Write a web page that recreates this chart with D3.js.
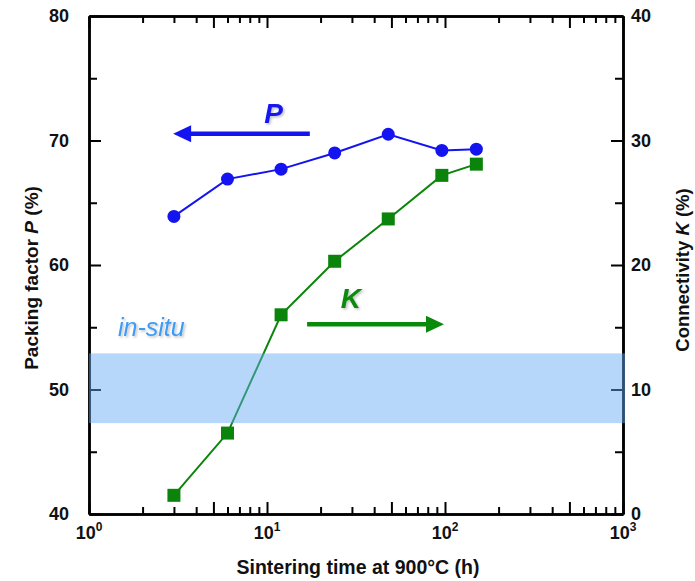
<!DOCTYPE html>
<html lang="en">
<head>
  <meta charset="UTF-8">
  <title>Packing factor and connectivity</title>
  <style>
    body { margin: 0; background: #fff; }
    text { font-family: "Liberation Sans", Arial, sans-serif; }
  </style>
</head>
<body>
<div id="chart"></div>

<script src="https://cdn.jsdelivr.net/npm/d3@7"></script>
<script>
  // sintering time (h) and the two measured series
  const times = [3, 6, 12, 24, 48, 96, 150];
  const packing = [63.9, 66.9, 67.7, 69.0, 70.5, 69.2, 69.3];
  const connectivity = [1.5, 6.5, 16.0, 20.3, 23.7, 27.2, 28.1];

  const pTicks = [40, 50, 60, 70, 80];
  const kTicks = [0, 10, 20, 30, 40];
  const decadeExps = [0, 1, 2, 3];
  const inSituBand = [47.3, 52.9];   // P range of in-situ value

  const margin = {top: 16, right: 72, bottom: 67, left: 89},
    width = 695 - margin.left - margin.right,
    height = 581 - margin.top - margin.bottom;

  const svgRoot = d3.select("#chart")
    .append("svg")
    .attr("width", 695)
    .attr("height", 581);

  const defs = svgRoot.append("defs");
  defs.append("filter").attr("id", "shadow")
    .attr("x", "-20%").attr("y", "-20%").attr("width", "150%").attr("height", "150%")
    .append("feDropShadow")
    .attr("dx", 1.5).attr("dy", 1.5).attr("stdDeviation", 1)
    .attr("flood-color", "#000").attr("flood-opacity", 0.25);

  const svg = svgRoot.append("g")
    .attr("transform", "translate(" + margin.left + "," + margin.top + ")");

  // scales
  const x = d3.scaleLog().domain([1, 1000]).range([0, width]);
  const yP = d3.scaleLinear().domain([40, 80]).range([height, 0]);
  const yK = d3.scaleLinear().domain([0, 40]).range([height, 0]);

  // log tick values
  const longX = [], shortX = [];
  decadeExps.forEach(function (e) {
    for (let m = 1; m <= 9; m++) {
      const v = m * Math.pow(10, e);
      if (v > 1000) continue;
      if (m === 1 || m === 5) longX.push(v); else shortX.push(v);
    }
  });

  const minorP = [45, 55, 65, 75];
  const minorK = [5, 15, 25, 35];

  function styleAxis(g) {
    g.selectAll(".domain").attr("stroke", "#000").attr("stroke-width", 2.5);
    g.selectAll(".tick line").attr("stroke", "#000").attr("stroke-width", 2);
  }

  // bottom and top axes (ticks inside)
  svg.append("g").attr("transform", "translate(0," + height + ")")
    .call(d3.axisBottom(x).tickValues(longX).tickSize(-12).tickSizeOuter(0).tickFormat(""))
    .call(styleAxis);
  svg.append("g").attr("transform", "translate(0," + height + ")")
    .call(d3.axisBottom(x).tickValues(shortX).tickSize(-7).tickSizeOuter(0).tickFormat(""))
    .call(styleAxis);
  svg.append("g")
    .call(d3.axisTop(x).tickValues(longX).tickSize(-12).tickSizeOuter(0).tickFormat(""))
    .call(styleAxis);
  svg.append("g")
    .call(d3.axisTop(x).tickValues(shortX).tickSize(-7).tickSizeOuter(0).tickFormat(""))
    .call(styleAxis);

  // left axis
  svg.append("g")
    .call(d3.axisLeft(yP).tickValues(minorP).tickSize(-8).tickSizeOuter(0).tickFormat(""))
    .call(styleAxis);
  const leftAx = svg.append("g")
    .call(d3.axisLeft(yP).tickValues(pTicks).tickSize(-12).tickSizeOuter(0).tickPadding(20))
    .call(styleAxis);
  leftAx.selectAll("text")
    .attr("font-size", 18).attr("font-weight", "bold").attr("fill", "#111")
    .attr("font-family", "Liberation Sans, Arial, sans-serif");

  // right axis
  svg.append("g").attr("transform", "translate(" + width + ",0)")
    .call(d3.axisRight(yK).tickValues(minorK).tickSize(-8).tickSizeOuter(0).tickFormat(""))
    .call(styleAxis);
  const rightAx = svg.append("g").attr("transform", "translate(" + width + ",0)")
    .call(d3.axisRight(yK).tickValues(kTicks).tickSize(-12).tickSizeOuter(0).tickPadding(8))
    .call(styleAxis);
  rightAx.selectAll("text")
    .attr("font-size", 18).attr("font-weight", "bold").attr("fill", "#111")
    .attr("font-family", "Liberation Sans, Arial, sans-serif");

  // x tick labels 10^n
  const xl = svg.append("g").selectAll("text")
    .data(decadeExps)
    .enter()
    .append("text")
    .attr("x", function (d) { return x(Math.pow(10, d)); })
    .attr("y", height + 25)
    .attr("text-anchor", "middle")
    .attr("font-size", 18).attr("font-weight", "bold").attr("fill", "#111");
  xl.append("tspan").text("10");
  xl.append("tspan").attr("font-size", 12).attr("dy", -8).text(function (d) { return d; });

  // axis titles
  svg.append("text")
    .attr("x", width / 2 + 2).attr("y", height + 60)
    .attr("text-anchor", "middle")
    .attr("font-size", 19.5).attr("font-weight", "bold").attr("fill", "#111")
    .text("Sintering time at 900°C (h)");

  const lt = svg.append("text")
    .attr("transform", "translate(-51," + (height / 2 + 13) + ") rotate(-90)")
    .attr("text-anchor", "middle")
    .attr("font-size", 19).attr("font-weight", "bold").attr("fill", "#111");
  lt.append("tspan").text("Packing factor ");
  lt.append("tspan").attr("font-style", "italic").text("P");
  lt.append("tspan").text(" (%)");

  const rt = svg.append("text")
    .attr("transform", "translate(" + (width + 66) + "," + (height / 2 + 5) + ") rotate(-90)")
    .attr("text-anchor", "middle")
    .attr("font-size", 18.5).attr("font-weight", "bold").attr("fill", "#111");
  rt.append("tspan").text("Connectivity ");
  rt.append("tspan").attr("font-style", "italic").text("K");
  rt.append("tspan").text(" (%)");

  // data lines
  const pData = times.map(function (t, i) { return {t: t, v: packing[i]}; });
  const kData = times.map(function (t, i) { return {t: t, v: connectivity[i]}; });

  svg.append("path")
    .datum(pData)
    .attr("fill", "none").attr("stroke", "#1414f0").attr("stroke-width", 2)
    .attr("d", d3.line().x(function (d) { return x(d.t); }).y(function (d) { return yP(d.v); }));

  svg.append("path")
    .datum(kData)
    .attr("fill", "none").attr("stroke", "#0a840a").attr("stroke-width", 2)
    .attr("d", d3.line().x(function (d) { return x(d.t); }).y(function (d) { return yK(d.v); }));

  // in-situ band (semi transparent, over lines and axes)
  svg.append("rect")
    .attr("x", 0)
    .attr("y", yP(inSituBand[1]))
    .attr("width", width + 2)
    .attr("height", yP(inSituBand[0]) - yP(inSituBand[1]))
    .attr("fill", "rgb(100,170,245)")
    .attr("fill-opacity", 0.47);

  // markers
  svg.selectAll("circle.p")
    .data(pData)
    .enter()
    .append("circle")
    .attr("class", "p")
    .attr("cx", function (d) { return x(d.t); })
    .attr("cy", function (d) { return yP(d.v); })
    .attr("r", 6.5)
    .attr("fill", "#1414f0");

  svg.selectAll("rect.k")
    .data(kData)
    .enter()
    .append("rect")
    .attr("class", "k")
    .attr("x", function (d) { return x(d.t) - 6.5; })
    .attr("y", function (d) { return yK(d.v) - 6.5; })
    .attr("width", 13).attr("height", 13)
    .attr("fill", "#0a840a");

  // annotations: arrows pointing to the axis of each series
  function arrow(x0, x1, yy, color) {
    const dir = x1 > x0 ? 1 : -1;
    svg.append("line")
      .attr("x1", x0).attr("x2", x1 - dir * 14).attr("y1", yy).attr("y2", yy)
      .attr("stroke", color).attr("stroke-width", 4.5);
    svg.append("path")
      .attr("d", "M" + x1 + "," + yy + "L" + (x1 - dir * 18) + "," + (yy - 8.5) +
        "L" + (x1 - dir * 18) + "," + (yy + 8.5) + "Z")
      .attr("fill", color);
  }
  arrow(x(17.4), x(2.97), yP(70.55), "#1414f0");
  arrow(x(16.8), x(98.7), yK(15.24), "#0a8a0a");

  svg.append("text")
    .attr("x", x(10.9)).attr("y", yP(71.4))
    .attr("text-anchor", "middle")
    .attr("font-size", 28).attr("font-weight", "bold").attr("font-style", "italic")
    .attr("fill", "#1414f0").attr("filter", "url(#shadow)")
    .text("P");

  svg.append("text")
    .attr("x", x(29.6)).attr("y", yK(16.55))
    .attr("text-anchor", "middle")
    .attr("font-size", 28).attr("font-weight", "bold").attr("font-style", "italic")
    .attr("fill", "#0a8a0a").attr("filter", "url(#shadow)")
    .text("K");

  svg.append("text")
    .attr("x", x(1.456)).attr("y", yP(54.3))
    .attr("font-size", 25).attr("font-style", "italic")
    .attr("fill", "#3d9bf5").attr("filter", "url(#shadow)")
    .text("in-situ");
</script>
</body>
</html>
